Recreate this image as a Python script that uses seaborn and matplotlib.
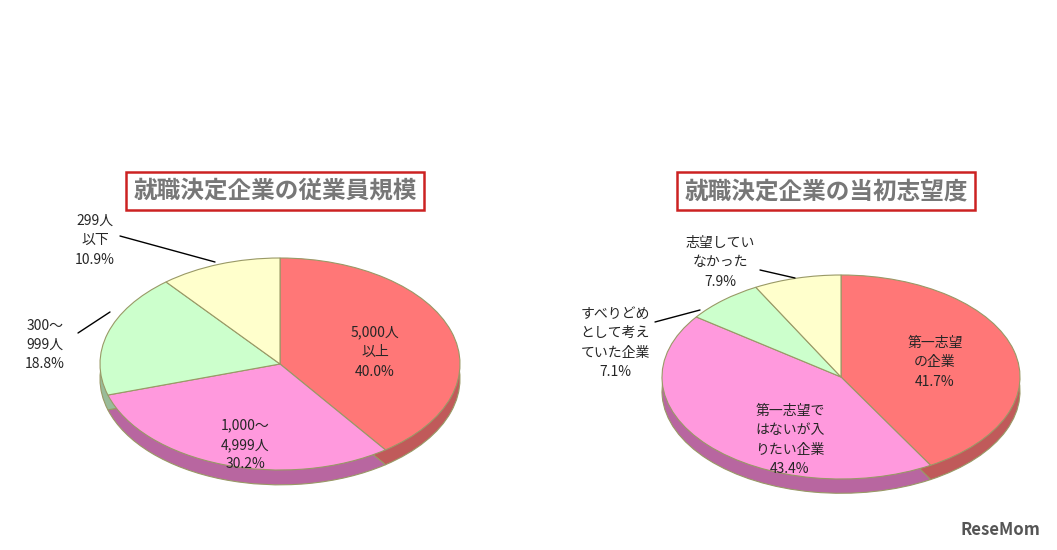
import matplotlib
matplotlib.use("Agg")
import matplotlib.pyplot as plt
import seaborn as sns

sns.set_theme(style="white")
plt.rcParams['font.family'] = ['Noto Sans CJK JP', 'DejaVu Sans']

W, H = 1057, 550
titles = ["就職決定企業の従業員規模", "就職決定企業の当初志望度"]
labels1 = ["5,000人\n以上", "1,000～\n4,999人", "300～\n999人", "299人\n以下"]
values1 = [40.0, 30.2, 18.8, 10.9]
labels2 = ["第一志望\nの企業", "第一志望で\nはないが入\nりたい企業", "すべりどめ\nとして考え\nていた企業", "志望してい\nなかった"]
values2 = [41.7, 43.4, 7.1, 7.9]

top_colors = ["#FF7777", "#FF99DD", "#CCFFCC", "#FFFFCC"]
rim_colors = ["#C05A5A", "#B866A0", "#99BB99", "#BBBB88"]

fig = plt.figure(figsize=(W/100, H/100), dpi=100)
fig.patch.set_facecolor("white")

def draw_pie(values, cx, cy, rx, ry):
    ax = fig.add_axes([(cx-rx)/W, 1-(cy+ry)/H, 2*rx/W, 2*ry/H])
    for off, cols in [(-0.14, rim_colors), (0, top_colors)]:
        ax.pie(values, colors=cols, startangle=90, counterclock=False,
               center=(0, off), radius=1,
               wedgeprops=dict(edgecolor="#999966", linewidth=0.8))
    ax.set_aspect('auto')
    ax.set_xlim(-1, 1); ax.set_ylim(-1, 1)
    ax.axis('off')
    for p in ax.patches:
        p.set_clip_on(False)

draw_pie(values1, 280, 364, 180, 106)
draw_pie(values2, 841, 377, 179, 102)

ov = fig.add_axes([0, 0, 1, 1], facecolor="none")
ov.set_xlim(0, W); ov.set_ylim(H, 0); ov.axis('off')

for t, x in zip(titles, [275, 826]):
    ov.text(x, 191, t, ha='center', va='center', fontsize=17, fontweight='bold',
            color="#777777",
            bbox=dict(boxstyle='square,pad=0.3', fc='white', ec='#CC2222', lw=1.8))

fs = 10
def lab(x, y, s, v):
    ov.text(x, y, f"{s}\n{v:.1f}%", ha='center', va='center', fontsize=fs, linespacing=1.5)

lab(375, 352, labels1[0], values1[0])
lab(245, 445, labels1[1], values1[1])
lab(45, 345, labels1[2], values1[2])
lab(95, 240, labels1[3], values1[3])
ov.plot([120, 215], [236, 262], color='black', lw=1)
ov.plot([78, 110], [333, 312], color='black', lw=1)

lab(935, 362, labels2[0], values2[0])
lab(790, 440, labels2[1], values2[1])
lab(615, 343, labels2[2], values2[2])
lab(720, 262, labels2[3], values2[3])
ov.plot([760, 795], [270, 278], color='black', lw=1)
ov.plot([655, 700], [322, 310], color='black', lw=1)

ov.text(1040, 530, "ReseMom", ha='right', va='center', fontsize=12,
        fontweight='bold', color="#555555")

fig.savefig("out.png", dpi=100)
